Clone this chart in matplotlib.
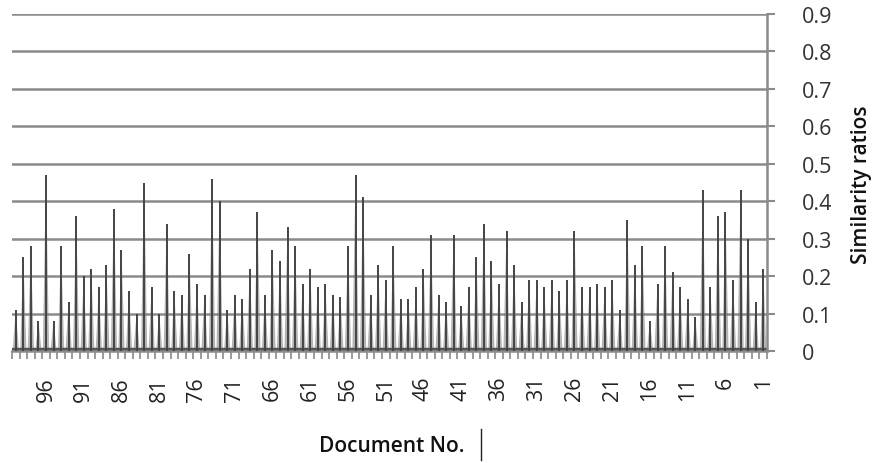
import matplotlib
matplotlib.use("Agg")
import matplotlib.pyplot as plt
from matplotlib.lines import Line2D
import numpy as np

plt.rcParams['font.family'] = ['Open Sans', 'DejaVu Sans']

documents = list(range(1, 101))
similarity = [
    0.22, 0.13, 0.30, 0.43, 0.19, 0.37, 0.36, 0.17, 0.43, 0.09,   # 1-10
    0.14, 0.17, 0.21, 0.28, 0.18, 0.08, 0.28, 0.23, 0.35, 0.11,   # 11-20
    0.19, 0.17, 0.18, 0.17, 0.17, 0.32, 0.19, 0.16, 0.19, 0.17,   # 21-30
    0.19, 0.19, 0.13, 0.23, 0.32, 0.18, 0.24, 0.34, 0.25, 0.17,   # 31-40
    0.12, 0.31, 0.13, 0.15, 0.31, 0.22, 0.17, 0.14, 0.14, 0.28,   # 41-50
    0.19, 0.23, 0.15, 0.41, 0.47, 0.28, 0.145, 0.15, 0.18, 0.17,  # 51-60
    0.22, 0.18, 0.28, 0.33, 0.24, 0.27, 0.15, 0.37, 0.22, 0.14,   # 61-70
    0.15, 0.11, 0.40, 0.46, 0.15, 0.18, 0.26, 0.15, 0.16, 0.34,   # 71-80
    0.10, 0.17, 0.45, 0.10, 0.16, 0.27, 0.38, 0.23, 0.17, 0.22,   # 81-90
    0.20, 0.36, 0.13, 0.28, 0.08, 0.47, 0.08, 0.28, 0.25, 0.11,   # 91-100
]
tick_labels = [str(n) for n in range(96, 0, -5)]
y_ticks = [0, 0.1, 0.2, 0.3, 0.4, 0.5, 0.6, 0.7, 0.8, 0.9]
y_tick_labels = ['0', '0.1', '0.2', '0.3', '0.4', '0.5', '0.6', '0.7', '0.8', '0.9']

W, H = 873, 464
fig = plt.figure(figsize=(W / 100, H / 100), dpi=100)
ax = fig.add_axes([12 / W, 1 - 352 / H, (767 - 12) / W, (352 - 15) / H])

grid_col = '#8a8a8a'
for yv in y_ticks:
    ax.axhline(yv, color=grid_col, lw=1.8, zorder=1)

# tapered spikes: triangular body plus dark core line
for d, v in zip(documents, similarity):
    ax.fill([d - 0.42, d, d + 0.42], [0, v, 0], color='#777777', alpha=0.55, lw=0, zorder=2)
ax.vlines(documents, 0, similarity, colors='#444444', lw=1.4, zorder=3)
ax.axhline(0.006, color='#555555', lw=2.5, zorder=2)

ax.set_xlim(100.5, 0.5)
ax.set_ylim(0, 0.9)

# x axis
ax.set_xticks([int(t) for t in tick_labels])
ax.set_xticklabels(tick_labels, rotation=90, fontsize=15.5, color='#222222')
ax.set_xticks(np.arange(0.5, 101, 1.0), minor=True)
ax.tick_params(axis='x', which='major', length=0, pad=18)
ax.tick_params(axis='x', which='minor', length=6, width=1.2, color=grid_col)

# y axis on right
ax.yaxis.tick_right()
ax.set_yticks(y_ticks)
ax.set_yticklabels(y_tick_labels, fontsize=15.5, color='#333333')
ax.tick_params(axis='y', length=6, width=1.5, color=grid_col, pad=19)

for side in ['top', 'left']:
    ax.spines[side].set_visible(False)
ax.spines['right'].set_color(grid_col)
ax.spines['right'].set_linewidth(1.8)
ax.spines['bottom'].set_color(grid_col)
ax.spines['bottom'].set_linewidth(1.8)

fig.text(862 / W, 1 - 185 / H, 'Similarity ratios', rotation=90, ha='center', va='center',
         fontsize=15, fontweight='semibold', color='#111111')
fig.text(392 / W, 1 - 447 / H, 'Document No.', ha='center', va='center',
         fontsize=15, fontweight='semibold', color='#111111')
fig.add_artist(Line2D([481 / W, 481 / W], [1 - 430 / H, 1 - 461 / H], color='#222222', lw=1.0))

fig.savefig('out.png', dpi=100)
